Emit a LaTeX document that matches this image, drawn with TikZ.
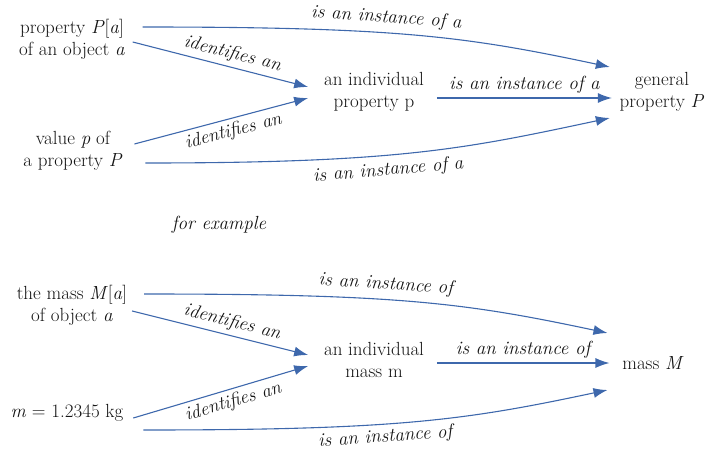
\documentclass[tikz,border=0pt]{standalone}
\usetikzlibrary{arrows.meta,positioning}
\definecolor{arrowblue}{RGB}{62,104,172}
\definecolor{textgray}{RGB}{20,20,20}

\begin{document}
\begin{tikzpicture}[x=1pt,y=1pt,->,>={Latex[length=14pt,width=10pt]},auto,line width=1.1pt,
  every node/.style={font=\fontsize{19}{22}\selectfont,text=textgray},
  term/.style={align=center},
  rel/.style={font=\fontsize{19}{22}\selectfont\itshape,sloped,inner sep=4pt},
  arc/.style={out looseness=1.4,in looseness=0.8},
  every edge/.style={draw=arrowblue}]
  \useasboundingbox (0,0) rectangle (709,-463);

  % general case
  \node[term](pa) at (72,-39) {property \textit{P}[\textit{a}]\\of an object \textit{a}};
  \node[term](vp) at (73,-151) {value \textit{p} of\\a property \textit{P}};
  \node[term](ip) at (374,-92) {an individual\\property p};
  \node[term](gp) at (662,-92) {general\\property \textit{P}};

  \path([xshift=14pt,yshift=12pt]pa.east) edge[arc,out=0,in=168] node[rel,pos=0.42,inner sep=6pt] {is an instance of a} ([xshift=-6pt,yshift=25pt]gp.west);
  \path([xshift=4pt,yshift=-3pt]pa.east) edge node[rel,pos=0.55] {identifies an} ([xshift=-12pt,yshift=5pt]ip.west);
  \path([xshift=8pt,yshift=7pt]vp.east) edge node[rel,swap,pos=0.55] {identifies an} ([xshift=-12pt,yshift=-6pt]ip.west);
  \path([xshift=9pt,yshift=-6pt]ip.east) edge node[rel] {is an instance of a} ([xshift=-4pt,yshift=-6pt]gp.west);
  \path([xshift=19pt,yshift=-12pt]vp.east) edge[arc,out=0,in=192] node[rel,swap,pos=0.42,inner sep=6pt] {is an instance of a} ([xshift=-6pt,yshift=-26pt]gp.west);

  \node(ex) at (219,-225) {\itshape for example};

  % example: mass
  \node[term](ma) at (72,-305) {the mass \textit{M}[\textit{a}]\\of object \textit{a}};
  \node(mv) at (67,-413) {\textit{m} = 1.2345 kg};
  \node[term](im) at (374,-360) {an individual\\mass m};
  \node(mm) at (653,-363) {mass \textit{M}};

  \path([xshift=13pt,yshift=11pt]ma.east) edge[arc,out=0,in=168] node[rel,pos=0.42,inner sep=6pt] {is an instance of} ([xshift=-11pt,yshift=30pt]mm.west);
  \path([xshift=1pt,yshift=-6pt]ma.east) edge node[rel,pos=0.55] {identifies an} ([xshift=-12pt,yshift=5pt]im.west);
  \path([xshift=6pt,yshift=-5pt]mv.east) edge node[rel,swap,pos=0.55] {identifies an} ([xshift=-12pt,yshift=-6pt]im.west);
  \path([xshift=9pt,yshift=-3pt]im.east) edge node[rel] {is an instance of} ([xshift=-9pt]mm.west);
  \path([xshift=16pt,yshift=-17pt]mv.east) edge[arc,out=0,in=192] node[rel,swap,pos=0.42] {is an instance of} ([xshift=-11pt,yshift=-27pt]mm.west);
\end{tikzpicture}
\end{document}
